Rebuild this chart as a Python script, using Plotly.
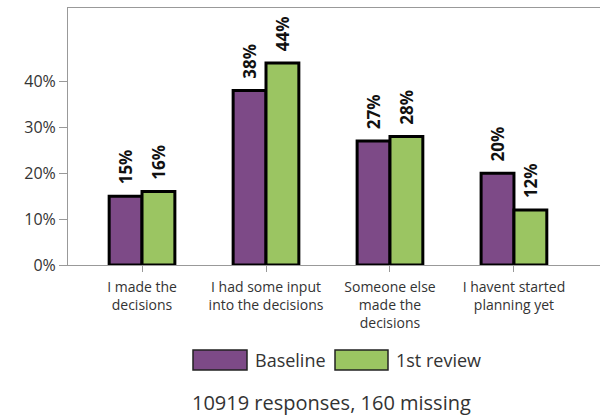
import plotly.graph_objects as go

categories = ["I made the<br>decisions", "I had some input<br>into the decisions",
              "Someone else<br>made the<br>decisions", "I havent started<br>planning yet"]
baseline = [15, 38, 27, 20]
review = [16, 44, 28, 12]
series_names = ["Baseline", "1st review"]
colors = ["#7D4A87", "#9BC562"]
y_ticks = [0, 10, 20, 30, 40]
y_ticktext = ["0%", "10%", "20%", "30%", "40%"]
caption = "10919 responses, 160 missing"

FONT = "Open Sans"
fig = go.Figure()
for name, vals, col in zip(series_names, [baseline, review], colors):
    fig.add_trace(go.Bar(
        x=categories, y=vals, name=name, showlegend=False,
        marker=dict(color=col, line=dict(color="#000000", width=3)),
        text=[f"\u00a0\u00a0{v}%" for v in vals], textposition="outside", textangle=-90,
        constraintext="none",
        textfont=dict(family=FONT, size=17, color="#111111", weight="bold"),
        cliponaxis=False,
    ))

fig.update_layout(
    width=600, height=415,
    margin=dict(l=68, r=0, t=8, b=150),
    plot_bgcolor="white", paper_bgcolor="white",
    barmode="group", bargap=0.47, bargroupgap=0,
    font=dict(family=FONT, color="#333333"),
    xaxis=dict(range=[-0.597, 3.694], showline=True, linecolor="#999999", linewidth=1,
               mirror=True, ticks="outside", ticklen=6, tickcolor="#999999",
               ticklabelstandoff=3,
               tickfont=dict(size=14, color="#333333"), showgrid=False),
    yaxis=dict(range=[0, 56], tickvals=y_ticks, ticktext=y_ticktext,
               showline=True, linecolor="#999999", linewidth=1, ticks="outside",
               ticklen=8, tickcolor="#999999", showgrid=False, zeroline=False,
               tickfont=dict(size=16, color="#333333")),
)

# legend drawn as wide swatches (paper coords relative to plot area)
def px_x(p):
    return (p - 68) / (600 - 68)

def px_y(p):
    return (265 - p) / (265 - 8)

legend_layout = [(193, 247, 256, series_names[0], colors[0]),
                 (335, 388, 397, series_names[1], colors[1])]
for sx0, sx1, tx, name, col in legend_layout:
    fig.add_shape(type="rect", xref="paper", yref="paper",
                  x0=px_x(sx0), x1=px_x(sx1), y0=px_y(370), y1=px_y(350),
                  fillcolor=col, line=dict(color="#222222", width=1.5))
    fig.add_annotation(xref="paper", yref="paper", x=px_x(tx - 3), y=px_y(360),
                       xanchor="left", yanchor="middle", showarrow=False,
                       text=name, font=dict(size=18, color="#333333"))
fig.add_annotation(xref="paper", yref="paper", x=px_x(331), y=px_y(403),
                   xanchor="center", yanchor="middle", showarrow=False,
                   text=caption, font=dict(size=20, color="#333333"))

fig.write_html("out.html", config={"displayModeBar": False},
               post_script="document.body.style.margin='0';document.body.style.overflow='hidden';")
